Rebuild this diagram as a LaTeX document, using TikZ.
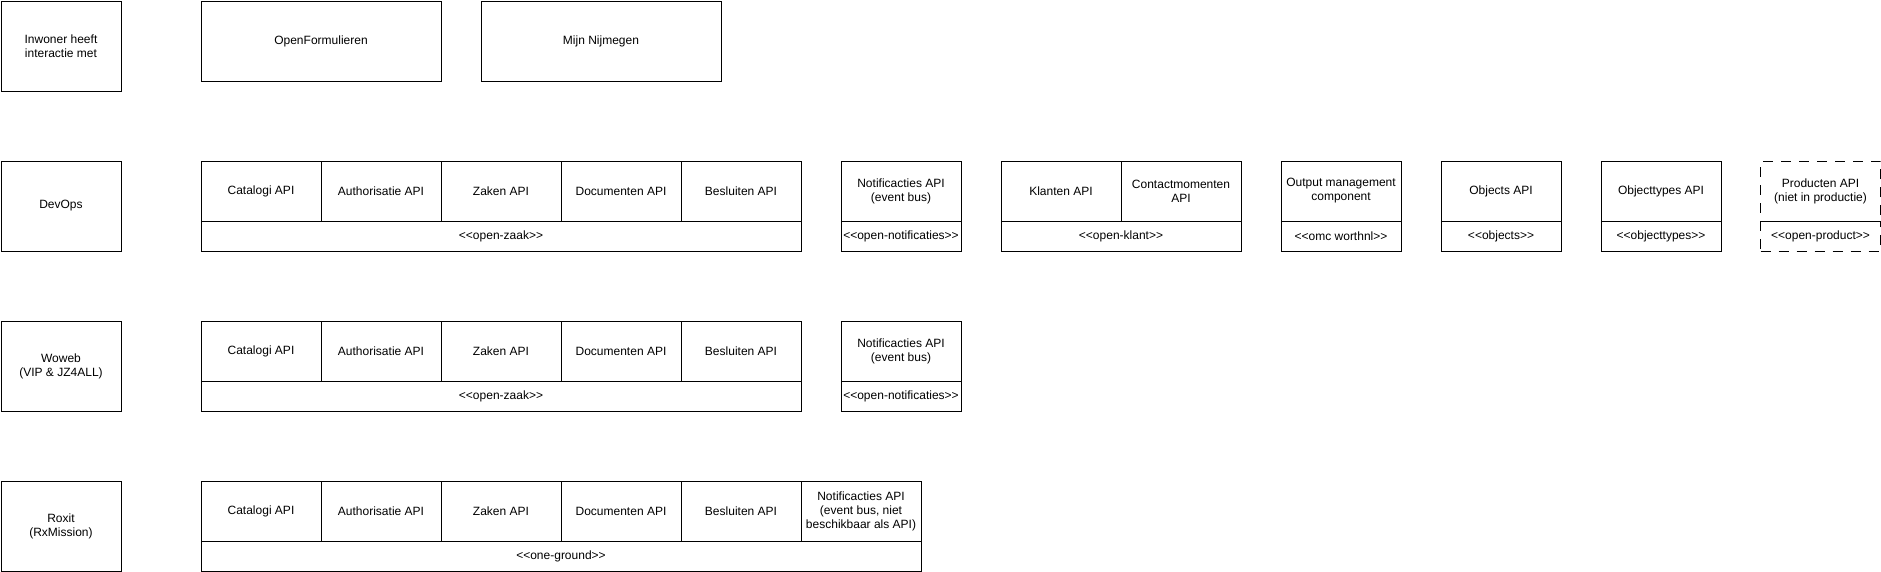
\documentclass[tikz,border=0pt]{standalone}
\usepackage{fontspec}
\setmainfont{Liberation Sans}[Ligatures=TeXOff]
\begin{document}
\begin{tikzpicture}[x=1pt,y=-1pt,
  every node/.style={font=\fontsize{12}{14}\selectfont, align=center, inner sep=0pt, anchor=north west, line width=1pt},
  cell/.style={draw, minimum width=120pt, minimum height=60pt},
  stereo/.style={draw, minimum height=30pt},
  actor/.style={draw, minimum width=120pt, minimum height=90pt},
  app/.style={draw, minimum width=240pt, minimum height=80pt},
  dashbox/.style={dash pattern=on 10pt off 8pt}]
\useasboundingbox (0,0) rectangle (1881,571);
% row 0
\node[actor] (inw) at (0.5,0.5) {Inwoner heeft\\interactie met};
\node[app] (of) at (200.5,0.5) {OpenFormulieren};
\node[app] (mn) at (480.5,0.5) {Mijn Nijmegen};
% row DevOps
\node[actor] (devops) at (0.5,160.5) {DevOps};
\node[cell] (d1) at (200.5,160.5) {Catalogi API};
\node[cell] (d2) at (320.5,160.5) {Authorisatie API};
\node[cell] (d3) at (440.5,160.5) {Zaken API};
\node[cell] (d4) at (560.5,160.5) {Documenten API};
\node[cell] (d5) at (680.5,160.5) {Besluiten API};
\node[stereo, minimum width=600pt] (dz) at (200.5,220.5) {<<open-zaak>>};
\node[cell] (dn) at (840.5,160.5) {Notificacties API\\(event bus)};
\node[stereo, minimum width=120pt] (dns) at (840.5,220.5) {<<open-notificaties>>};
\node[cell] (dk1) at (1000.5,160.5) {Klanten API};
\node[cell] (dk2) at (1120.5,160.5) {Contactmomenten\\API};
\node[stereo, minimum width=240pt] (dks) at (1000.5,220.5) {<<open-klant>>};
\node[cell] (do) at (1280.5,160.5) {Output management\\component};
\node[stereo, minimum width=120pt] (dos) at (1280.5,220.5) {<<omc worthnl>>};
\node[cell] (dob) at (1440.5,160.5) {Objects API};
\node[stereo, minimum width=120pt] (dobs) at (1440.5,220.5) {<<objects>>};
\node[cell] (dot) at (1600.5,160.5) {Objecttypes API};
\node[stereo, minimum width=120pt] (dots) at (1600.5,220.5) {<<objecttypes>>};
\node[cell, dashbox] (dp) at (1760,160.5) {Producten API\\(niet in productie)};
\node[stereo, dashbox, minimum width=120pt] (dps) at (1760,220.5) {<<open-product>>};
% row Woweb
\node[actor] (woweb) at (0.5,320.5) {Woweb\\(VIP \& JZ4ALL)};
\node[cell] (w1) at (200.5,320.5) {Catalogi API};
\node[cell] (w2) at (320.5,320.5) {Authorisatie API};
\node[cell] (w3) at (440.5,320.5) {Zaken API};
\node[cell] (w4) at (560.5,320.5) {Documenten API};
\node[cell] (w5) at (680.5,320.5) {Besluiten API};
\node[stereo, minimum width=600pt] (wz) at (200.5,380.5) {<<open-zaak>>};
\node[cell] (wn) at (840.5,320.5) {Notificacties API\\(event bus)};
\node[stereo, minimum width=120pt] (wns) at (840.5,380.5) {<<open-notificaties>>};
% row Roxit
\node[actor] (roxit) at (0.5,480.5) {Roxit\\(RxMission)};
\node[cell] (r1) at (200.5,480.5) {Catalogi API};
\node[cell] (r2) at (320.5,480.5) {Authorisatie API};
\node[cell] (r3) at (440.5,480.5) {Zaken API};
\node[cell] (r4) at (560.5,480.5) {Documenten API};
\node[cell] (r5) at (680.5,480.5) {Besluiten API};
\node[cell] (r6) at (800.5,480.5) {Notificacties API\\(event bus, niet\\beschikbaar als API)};
\node[stereo, minimum width=720pt] (rz) at (200.5,540.5) {<<one-ground>>};
\end{tikzpicture}
\end{document}
